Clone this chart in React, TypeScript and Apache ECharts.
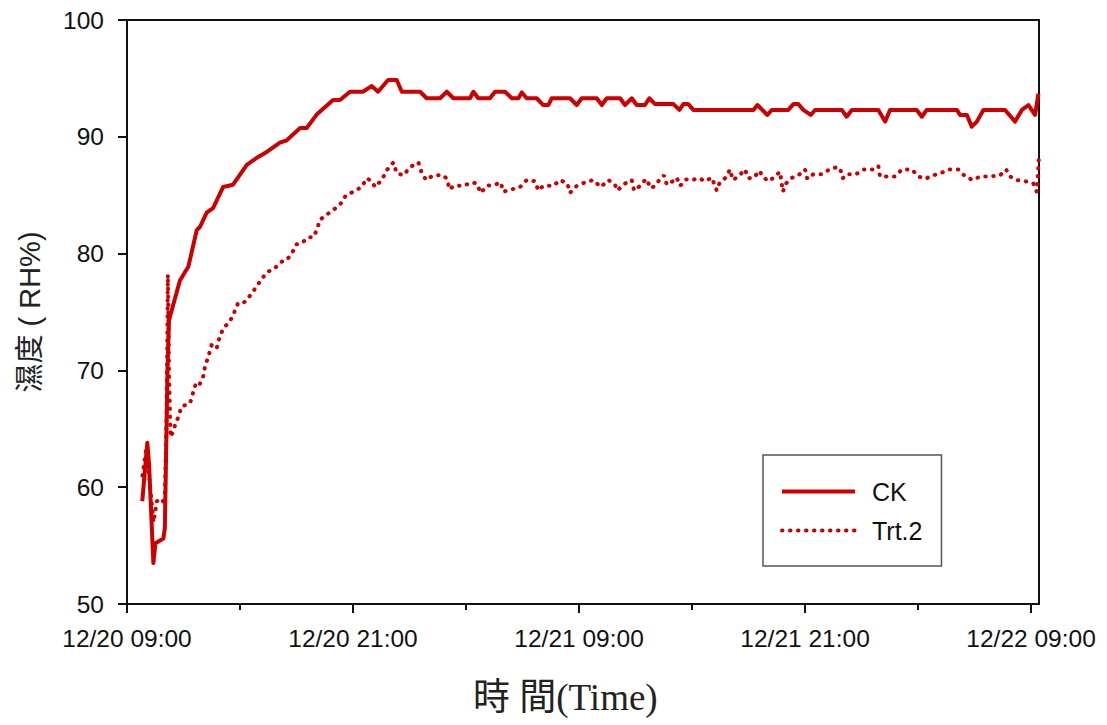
import React, { useEffect, useRef } from "react";
import * as echarts from "echarts";

// hours after 12/20 09:00
const ckHours = [0.81, 1.08, 1.17, 1.4, 1.51, 1.93, 2.01, 2.15, 2.23, 2.81, 3.26, 3.7, 3.88, 4.23, 4.57, 5.1, 5.63, 6.36, 6.89, 7.42, 8.12, 8.48, 9.19, 9.54, 10.07, 10.94, 11.31, 11.84, 12.53, 12.99, 13.33, 13.86, 14.32, 14.59, 15.56, 15.91, 16.62, 16.98, 17.33, 18.21, 18.39, 18.65, 19.27, 19.54, 20.07, 20.43, 20.78, 20.96, 21.22, 21.75, 22.1, 22.37, 22.55, 23.52, 23.88, 24.14, 24.94, 25.21, 25.47, 26.18, 26.44, 26.8, 27.06, 27.5, 27.73, 28.04, 29.01, 29.33, 29.54, 29.8, 30.07, 33.26, 33.47, 34.0, 34.23, 35.11, 35.38, 35.64, 35.91, 36.3, 36.53, 37.95, 38.21, 38.48, 39.89, 40.25, 40.51, 41.93, 42.2, 42.46, 44.06, 44.23, 44.59, 44.85, 45.12, 45.47, 46.62, 47.15, 47.51, 47.86, 48.21, 48.39];
const ckValues = [58.8, 63.8, 62.0, 53.5, 55.2, 55.6, 56.5, 70.0, 74.3, 77.7, 78.9, 82.0, 82.3, 83.5, 83.9, 85.7, 85.9, 87.6, 88.2, 88.7, 89.5, 89.7, 90.75, 90.75, 91.9, 93.15, 93.15, 93.86, 93.86, 94.35, 93.86, 94.86, 94.86, 93.86, 93.86, 93.3, 93.3, 93.86, 93.3, 93.3, 93.86, 93.3, 93.3, 93.86, 93.86, 93.3, 93.3, 93.8, 93.3, 93.3, 92.72, 92.72, 93.3, 93.3, 92.72, 93.3, 93.3, 92.72, 93.3, 93.3, 92.72, 93.3, 92.72, 92.72, 93.3, 92.8, 92.8, 92.3, 92.8, 92.8, 92.3, 92.3, 92.72, 91.87, 92.3, 92.3, 92.8, 92.8, 92.3, 91.87, 92.3, 92.3, 91.72, 92.3, 92.3, 91.3, 92.3, 92.3, 91.72, 92.3, 92.3, 91.87, 91.87, 90.87, 91.3, 92.3, 92.3, 91.3, 92.3, 92.72, 91.87, 93.7];

const trtHours = [0.82, 1.01, 1.17, 1.41, 1.58, 1.85, 2.0, 2.1, 2.17, 2.23, 2.31, 2.45, 2.55, 2.72, 2.9, 3.35, 3.49, 3.66, 3.84, 4.05, 4.14, 4.32, 4.5, 4.76, 4.9, 5.11, 5.47, 5.7, 5.88, 6.14, 6.44, 6.8, 7.1, 7.42, 7.81, 8.21, 8.44, 8.71, 9.01, 9.28, 9.63, 9.89, 10.07, 10.25, 10.57, 10.92, 11.31, 11.63, 12.02, 12.46, 12.73, 12.99, 13.17, 13.52, 13.82, 14.14, 14.32, 14.67, 15.03, 15.47, 15.65, 15.88, 16.26, 16.8, 17.01, 17.11, 17.36, 17.86, 18.3, 18.57, 18.78, 19.1, 19.54, 19.84, 19.98, 20.43, 20.87, 21.22, 21.66, 21.84, 22.1, 22.64, 22.99, 23.38, 23.52, 23.88, 24.32, 24.76, 25.15, 25.56, 25.91, 26.03, 26.44, 26.8, 26.92, 27.24, 27.56, 27.81, 28.04, 28.21, 28.51, 28.66, 28.98, 29.19, 29.36, 29.68, 29.98, 30.39, 30.69, 31.05, 31.31, 31.45, 31.75, 32.02, 32.16, 32.46, 32.81, 32.99, 33.29, 33.57, 33.79, 34.1, 34.46, 34.67, 34.82, 34.99, 35.24, 35.64, 36.0, 36.12, 36.44, 36.89, 37.29, 37.68, 37.86, 38.0, 38.21, 38.71, 39.1, 39.6, 39.89, 39.98, 40.78, 41.14, 41.67, 42.02, 42.37, 42.81, 43.21, 43.66, 44.14, 44.5, 44.9, 45.29, 45.82, 46.35, 46.67, 46.89, 47.2, 47.68, 48.12, 48.3, 48.37, 48.41];
const trtValues = [61.0, 63.2, 61.0, 57.0, 58.8, 59.0, 58.5, 66.0, 78.2, 70.0, 64.3, 64.8, 65.3, 66.0, 66.9, 67.2, 68.0, 68.9, 68.75, 69.5, 70.3, 71.2, 72.2, 71.9, 72.75, 73.6, 74.2, 75.0, 75.7, 75.7, 76.2, 77.0, 77.7, 78.4, 78.7, 79.3, 79.4, 79.9, 80.8, 80.9, 81.4, 81.4, 82.0, 82.9, 83.3, 83.7, 84.2, 85.0, 85.3, 85.7, 86.45, 86.2, 85.7, 86.3, 87.2, 87.8, 86.9, 86.7, 87.4, 87.8, 86.9, 86.3, 86.7, 86.7, 86.35, 85.5, 85.8, 85.8, 86.1, 86.0, 85.2, 85.8, 85.9, 86.1, 85.3, 85.5, 85.7, 86.3, 86.2, 85.4, 85.8, 85.8, 86.3, 86.0, 85.2, 85.8, 86.1, 86.3, 85.7, 86.3, 85.9, 85.4, 86.0, 86.3, 85.4, 85.8, 86.4, 85.6, 85.8, 86.2, 86.7, 85.9, 86.2, 86.5, 85.8, 86.35, 86.3, 86.45, 86.2, 86.5, 85.4, 86.0, 86.45, 87.2, 86.3, 86.6, 87.2, 86.45, 86.5, 87.1, 86.5, 86.2, 86.7, 87.0, 85.3, 86.0, 86.45, 86.7, 87.2, 86.4, 86.8, 86.8, 87.2, 87.4, 87.3, 86.45, 86.8, 86.8, 87.2, 87.2, 87.5, 86.6, 86.6, 87.2, 87.2, 86.6, 86.4, 86.7, 86.9, 87.2, 87.2, 86.6, 86.3, 86.6, 86.6, 86.7, 87.2, 86.6, 86.3, 86.2, 86.0, 85.3, 86.9, 88.2];

const seriesNames = ["CK", "Trt.2"];
const majorTicks = [0, 12, 24, 36, 48];
const minorTicks = [6, 18, 30, 42];
const tickLabels = ["12/20 09:00", "12/20 21:00", "12/21 09:00", "12/21 21:00", "12/22 09:00"];
const yTicks = [50, 60, 70, 80, 90, 100];

const RED = "#cc0000";
const SANS = "'Liberation Sans', Arial, sans-serif";

export default function App() {
  const ref = useRef<HTMLDivElement>(null);
  useEffect(() => {
    document.body.style.margin = "0";
    const chart = echarts.init(ref.current!, undefined, { renderer: "svg" });
    const zip = (h: number[], v: number[]) => h.map((x, i) => [x, v[i]]);
    chart.setOption({
      animation: false,
      backgroundColor: "#fff",
      grid: {
        left: 127,
        top: 20,
        right: 68,
        bottom: 121,
        show: true,
        borderColor: "#111",
        borderWidth: 2,
        outerBoundsMode: "none",
      },
      legend: {
        left: 763,
        top: 455,
        orient: "vertical",
        padding: [24, 19, 23, 17],
        itemWidth: 73,
        itemHeight: 14,
        itemGap: 14,
        borderColor: "#555",
        borderWidth: 1.5,
        backgroundColor: "#fff",
        selectedMode: false,
        itemStyle: { opacity: 0 },
        lineStyle: { width: 4 },
        textStyle: { fontFamily: SANS, fontSize: 25, color: "#111", lineHeight: 24, padding: [0, 0, 0, 12] },
        data: seriesNames,
      },
      xAxis: [
        {
          type: "value",
          min: 0,
          max: 48.42,
          position: "bottom",
          axisLine: { show: true, lineStyle: { color: "#111", width: 2 } },
          axisTick: { show: true, customValues: majorTicks, length: 9, lineStyle: { color: "#111", width: 2 } },
          axisLabel: {
            customValues: majorTicks,
            margin: 22,
            fontFamily: SANS,
            fontSize: 24.5,
            color: "#111",
            formatter: (v: number) => tickLabels[Math.round(v / 12)] ?? "",
          },
          splitLine: { show: false },
        },
        {
          type: "value",
          min: 0,
          max: 48.42,
          position: "bottom",
          axisLine: { show: false },
          axisTick: { show: true, customValues: minorTicks, length: 6, lineStyle: { color: "#111", width: 2 } },
          axisLabel: { show: false },
          splitLine: { show: false },
        },
      ],
      yAxis: {
        type: "value",
        min: 50,
        max: 100,
        interval: 10,
        name: "濕度 ( RH%)",
        nameLocation: "middle",
        nameGap: 83,
        nameTextStyle: { fontFamily: "'Liberation Sans', 'Noto Sans CJK TC', sans-serif", fontSize: 29, color: "#222" },
        axisLine: { show: true, lineStyle: { color: "#111", width: 2 } },
        axisTick: { show: true, length: 9, lineStyle: { color: "#111", width: 2 } },
        axisLabel: {
          margin: 23,
          fontFamily: SANS,
          fontSize: 24.5,
          color: "#111",
          formatter: (v: number) => (yTicks.includes(v) ? String(v) : ""),
        },
        splitLine: { show: false },
      },
      graphic: [
        {
          type: "text",
          left: 473,
          top: 679,
          style: {
            text: "時 間(Time)",
            fontFamily: "'Liberation Serif', 'Noto Sans CJK TC', serif",
            fontSize: 37,
            fill: "#222",
          },
        },
      ],
      series: [
        {
          name: seriesNames[0],
          type: "line",
          symbol: "none",
          showSymbol: false,
          silent: true,
          data: zip(ckHours, ckValues),
          lineStyle: { color: RED, width: 4, join: "round" },
          itemStyle: { color: RED },
        },
        {
          name: seriesNames[1],
          type: "line",
          symbol: "none",
          showSymbol: false,
          silent: true,
          data: zip(trtHours, trtValues),
          lineStyle: { color: RED, width: 4, type: [0.5, 7.5], cap: "round" },
          itemStyle: { color: RED },
        },
      ],
    });
    return () => chart.dispose();
  }, []);
  return <div ref={ref} style={{ width: 1107, height: 725 }} />;
}
